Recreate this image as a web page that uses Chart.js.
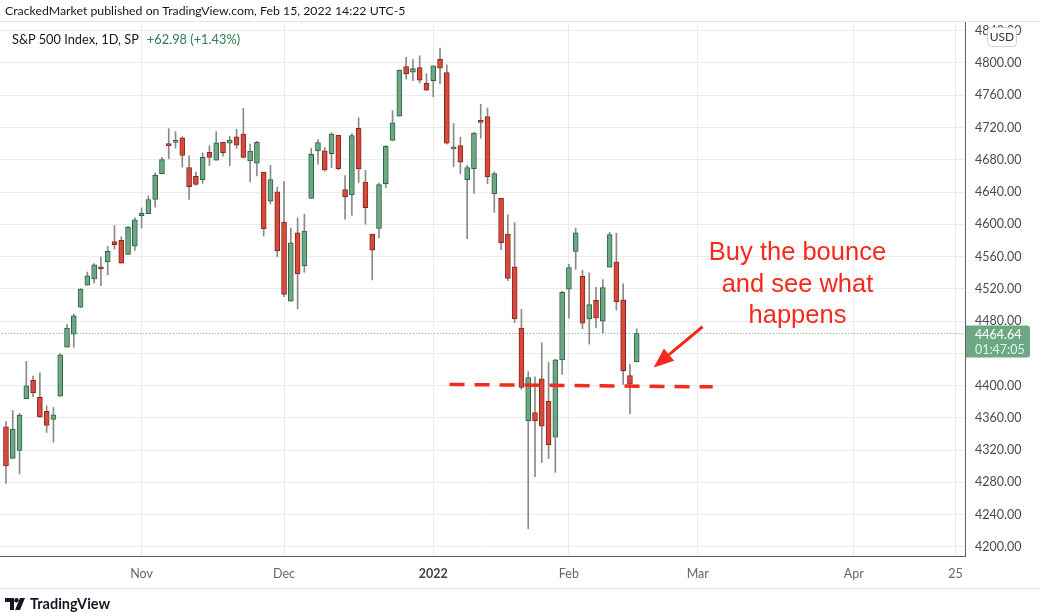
<!DOCTYPE html>
<html>
<head>
<meta charset="utf-8">
<script src="https://cdn.jsdelivr.net/npm/chart.js@4.4.1/dist/chart.umd.min.js"></script>
<style>
    body { margin: 0; background: #fff; }
    #wrap { position: relative; width: 1040px; height: 613px; overflow: hidden; }
    #grafico { position: absolute; left: 0; top: 0; }
    .txt { position: absolute; white-space: nowrap; font-family: Lato, "Open Sans", sans-serif; }
    #cabecera { left: 5px; top: 3px; font-size: 12.3px; color: #131722; }
    #leyenda { left: 12px; top: 31px; font-size: 12.8px; color: #131722; }
    #leyenda span { color: #2e7d4f; margin-left: 8px; }
    #logo { left: 5px; top: 595px; font-size: 14.5px; font-weight: bold; color: #131722; display: flex; align-items: center; }
    #logo svg { margin-right: 5px; }
</style>
</head>
<body>
<div id="wrap">
    <canvas id="grafico" width="1040" height="613"></canvas>
    <div class="txt" id="cabecera">CrackedMarket published on TradingView.com, Feb 15, 2022 14:22 UTC-5</div>
    <div class="txt" id="leyenda">S&amp;P 500 Index, 1D, SP<span>+62.98 (+1.43%)</span></div>
    <div class="txt" id="logo"><svg width="20" height="12" viewBox="0 0 20 12"><path d="M0 0h9v12H5V4H0z" fill="#131722"/><circle cx="11.5" cy="2.2" r="2.2" fill="#131722"/><path d="M15 0h5l-5 12h-5z" fill="#131722"/></svg>TradingView</div>
</div>
<script>
// S&P 500 diario, 4 oct 2021 - 15 feb 2022
const fechas = ['Oct 4','Oct 5','Oct 6','Oct 7','Oct 8','Oct 11','Oct 12','Oct 13','Oct 14','Oct 15',
    'Oct 18','Oct 19','Oct 20','Oct 21','Oct 22','Oct 25','Oct 26','Oct 27','Oct 28','Oct 29',
    'Nov 1','Nov 2','Nov 3','Nov 4','Nov 5','Nov 8','Nov 9','Nov 10','Nov 11','Nov 12',
    'Nov 15','Nov 16','Nov 17','Nov 18','Nov 19','Nov 22','Nov 23','Nov 24','Nov 26','Nov 29','Nov 30',
    'Dec 1','Dec 2','Dec 3','Dec 6','Dec 7','Dec 8','Dec 9','Dec 10','Dec 13','Dec 14',
    'Dec 15','Dec 16','Dec 17','Dec 20','Dec 21','Dec 22','Dec 23','Dec 27','Dec 28','Dec 29','Dec 30','Dec 31',
    'Jan 3','Jan 4','Jan 5','Jan 6','Jan 7','Jan 10','Jan 11','Jan 12','Jan 13','Jan 14',
    'Jan 18','Jan 19','Jan 20','Jan 21','Jan 24','Jan 25','Jan 26','Jan 27','Jan 28','Jan 31',
    'Feb 1','Feb 2','Feb 3','Feb 4','Feb 7','Feb 8','Feb 9','Feb 10','Feb 11','Feb 14','Feb 15'];

const apertura = [4348.8,4309.9,4319.6,4383.7,4406.5,4385.4,4368.3,4358.0,4386.8,4447.7,
    4463.7,4497.3,4524.4,4532.2,4546.1,4553.7,4578.7,4580.2,4562.8,4572.9,
    4610.6,4613.3,4630.7,4662.9,4699.3,4701.5,4707.3,4670.3,4659.4,4655.2,
    4689.3,4679.4,4701.5,4700.7,4708.4,4712.0,4678.5,4675.8,4664.6,4628.8,4640.3,
    4602.8,4504.7,4589.5,4548.4,4632.0,4690.9,4691.0,4687.6,4710.3,4643.0,
    4636.5,4719.1,4652.5,4587.9,4595.0,4650.4,4704.0,4734.0,4795.5,4788.6,4794.2,4775.2,
    4778.1,4804.5,4788.0,4693.4,4697.7,4655.3,4669.1,4728.6,4733.6,4638.0,
    4632.2,4588.0,4547.4,4471.4,4356.3,4366.6,4408.4,4380.6,4336.2,4431.8,
    4519.6,4566.4,4535.4,4482.8,4505.8,4480.0,4547.0,4553.2,4506.3,4412.6,4429.3];

const maximo = [4355.5,4369.2,4365.6,4430.0,4412.0,4415.9,4374.9,4372.9,4439.7,4475.8,
    4488.8,4520.4,4540.9,4551.4,4559.7,4572.6,4598.5,4584.6,4597.6,4608.1,
    4620.3,4635.2,4663.5,4683.0,4718.5,4714.9,4708.5,4684.9,4664.6,4688.5,
    4697.4,4715.0,4701.5,4708.8,4717.8,4743.8,4699.4,4702.9,4664.6,4673.0,4646.0,
    4652.9,4595.5,4608.0,4612.6,4694.0,4705.1,4695.3,4713.6,4710.3,4660.5,
    4712.6,4732.0,4666.7,4587.9,4651.1,4697.7,4740.7,4791.5,4807.0,4804.1,4808.9,4786.8,
    4796.6,4818.6,4797.7,4725.0,4708.0,4673.0,4714.1,4748.8,4744.1,4665.1,
    4632.2,4611.6,4602.1,4494.5,4417.4,4411.0,4453.2,4428.7,4432.7,4516.9,
    4550.5,4595.3,4542.9,4539.7,4521.9,4531.3,4590.0,4588.9,4526.3,4426.2,4470.5];

const minimo = [4278.9,4309.9,4290.5,4383.7,4386.2,4360.6,4342.1,4329.9,4386.8,4447.7,
    4447.5,4496.4,4524.4,4526.9,4524.0,4537.4,4569.2,4551.7,4562.8,4567.6,
    4595.1,4613.3,4621.2,4662.6,4681.3,4694.4,4670.9,4630.9,4648.3,4650.8,
    4672.9,4679.4,4684.4,4672.8,4694.2,4682.2,4652.7,4659.9,4585.4,4625.3,4560.0,
    4510.3,4504.7,4495.1,4540.5,4632.0,4674.5,4666.0,4670.2,4667.6,4606.5,
    4611.2,4651.9,4600.2,4531.1,4583.2,4645.5,4704.0,4734.0,4780.0,4778.1,4775.3,4765.8,
    4758.2,4774.3,4699.4,4671.3,4662.7,4582.2,4638.3,4706.7,4650.3,4614.8,
    4568.7,4530.2,4478.0,4395.3,4222.6,4287.1,4304.8,4309.5,4292.5,4414.0,
    4483.5,4544.3,4470.4,4451.5,4471.5,4465.4,4547.0,4493.6,4401.4,4364.8,4429.3];

const cierre = [4300.5,4345.7,4363.6,4399.8,4391.3,4361.2,4350.7,4363.8,4438.3,4471.4,
    4486.5,4519.6,4536.2,4549.8,4544.9,4566.5,4574.8,4551.7,4596.4,4605.4,
    4613.7,4630.7,4660.6,4680.1,4697.5,4701.7,4685.3,4646.7,4649.3,4682.9,
    4682.8,4700.9,4688.7,4704.5,4698.0,4682.9,4690.7,4701.5,4594.6,4655.3,4567.0,
    4513.0,4577.1,4538.4,4591.7,4686.8,4701.2,4667.5,4712.0,4669.0,4634.1,
    4709.9,4668.7,4620.6,4568.0,4649.2,4696.6,4725.8,4791.2,4786.4,4793.1,4778.7,4766.2,
    4796.6,4793.5,4700.6,4696.1,4677.0,4670.3,4713.1,4726.4,4659.0,4662.9,
    4577.1,4532.8,4482.7,4397.9,4410.1,4356.5,4349.9,4326.5,4431.9,4515.6,
    4546.5,4589.4,4477.4,4500.5,4483.9,4521.5,4587.2,4504.1,4418.6,4401.7,4464.64];

// etiquetas del eje x (posicion = numero de barra de negociacion)
const posMeses = [20, 41, 63, 83, 102, 125, 140];
const nombresMeses = ['Nov', 'Dec', '2022', 'Feb', 'Mar', 'Apr', '25'];
const ticksPrecio = [4200, 4240, 4280, 4320, 4360, 4400, 4440, 4480, 4520, 4560, 4600, 4640, 4680, 4720, 4760, 4800, 4840];

// linea de soporte dibujada a mano y flecha
const soporteX = [65.4, 104.2];
const soporteY = [4401.5, 4398.5];
const flecha = { desde: [102.7, 4473], hasta: [95.5, 4422.5] };
const nota = ['Buy the bounce', 'and see what', 'happens'];
const notaPos = [116.7, 4564];

const verde = '#6ba883', verdeBorde = '#2f6445';
const rojo = '#d8493b', rojoBorde = '#83291f';
const anotacion = '#f5291c';
const ultimo = cierre[cierre.length - 1];

function esAlcista(i) {
    return cierre[i] >= apertura[i];
}

const extras = {
    id: 'extras',
    beforeDraw(chart) {
        const ctx = chart.ctx;
        ctx.save();
        ctx.fillStyle = '#fff';
        ctx.fillRect(0, 0, chart.width, chart.height);
        ctx.restore();
    },
    afterDraw(chart) {
        const ctx = chart.ctx;
        const x = chart.scales.x, y = chart.scales.y;
        const area = chart.chartArea;
        ctx.save();

        // bordes claros arriba y abajo
        ctx.strokeStyle = '#e0e3eb';
        ctx.lineWidth = 1;
        ctx.beginPath();
        ctx.moveTo(0, area.top - 0.5); ctx.lineTo(chart.width, area.top - 0.5);
        ctx.moveTo(0, 588.5); ctx.lineTo(chart.width, 588.5);
        ctx.stroke();

        // flecha
        const x1 = x.getPixelForValue(flecha.desde[0]), y1 = y.getPixelForValue(flecha.desde[1]);
        const x2 = x.getPixelForValue(flecha.hasta[0]), y2 = y.getPixelForValue(flecha.hasta[1]);
        const ang = Math.atan2(y2 - y1, x2 - x1);
        const largo = 20, ancho = 8;
        const bx = x2 - largo * Math.cos(ang), by = y2 - largo * Math.sin(ang);
        ctx.strokeStyle = anotacion;
        ctx.fillStyle = anotacion;
        ctx.lineWidth = 3;
        ctx.beginPath();
        ctx.moveTo(x1, y1); ctx.lineTo(bx, by);
        ctx.stroke();
        ctx.beginPath();
        ctx.moveTo(x2, y2);
        ctx.lineTo(bx + ancho * Math.sin(ang), by - ancho * Math.cos(ang));
        ctx.lineTo(bx - ancho * Math.sin(ang), by + ancho * Math.cos(ang));
        ctx.closePath();
        ctx.fill();

        // texto de la nota
        ctx.font = '25.5px "Liberation Sans", Arial, sans-serif';
        ctx.textAlign = 'center';
        ctx.textBaseline = 'middle';
        const nx = x.getPixelForValue(notaPos[0]), ny = y.getPixelForValue(notaPos[1]);
        nota.forEach((linea, i) => ctx.fillText(linea, nx, ny + i * 31.5));

        // etiqueta del precio actual
        const py = y.getPixelForValue(ultimo);
        ctx.fillStyle = verde;
        ctx.beginPath();
        ctx.roundRect(area.right + 1, py - 8, 64, 32, [0, 3, 3, 0]);
        ctx.fill();
        ctx.textAlign = 'left';
        ctx.font = '12.5px Lato, "Open Sans", sans-serif';
        ctx.fillStyle = '#fff';
        ctx.fillText(ultimo.toFixed(2), area.right + 10, py + 1);
        ctx.fillStyle = 'rgba(255,255,255,0.85)';
        ctx.fillText('01:47:05', area.right + 10, py + 16);

        // USD
        ctx.fillStyle = '#fff';
        ctx.strokeStyle = '#d1d4dc';
        ctx.lineWidth = 1;
        ctx.beginPath();
        ctx.roundRect(987.5, 27.5, 29, 19, 4);
        ctx.fill();
        ctx.stroke();
        ctx.fillStyle = '#333';
        ctx.textAlign = 'center';
        ctx.font = '12px Lato, "Open Sans", sans-serif';
        ctx.fillText('USD', 1002, 37.5);

        ctx.restore();
    }
};

new Chart(document.getElementById('grafico'), {
    type: 'bar',
    data: {
        datasets: [
            {
                type: 'line',
                data: [{ x: -1, y: ultimo }, { x: 142, y: ultimo }],
                borderColor: '#5ea57b',
                borderWidth: 1,
                borderDash: [1, 2],
                pointRadius: 0,
                order: 4
            },
            {
                data: fechas.map((f, i) => ({ x: i, y: [minimo[i], maximo[i]] })),
                backgroundColor: '#8a8a8a',
                barThickness: 1,
                grouped: false,
                order: 3
            },
            {
                data: fechas.map((f, i) => ({ x: i, y: [apertura[i], cierre[i]] })),
                backgroundColor: fechas.map((f, i) => esAlcista(i) ? verde : rojo),
                borderColor: fechas.map((f, i) => esAlcista(i) ? verdeBorde : rojoBorde),
                borderWidth: 1,
                borderSkipped: false,
                barThickness: 5,
                minBarLength: 2,
                grouped: false,
                order: 2
            },
            {
                type: 'line',
                data: soporteX.map((v, i) => ({ x: v, y: soporteY[i] })),
                borderColor: anotacion,
                borderWidth: 3.5,
                borderDash: [15, 10],
                pointRadius: 0,
                order: 1
            }
        ]
    },
    options: {
        responsive: false,
        animation: false,
        devicePixelRatio: 1,
        layout: { padding: { top: 22, left: 0, right: 0, bottom: 0 } },
        plugins: { legend: { display: false }, tooltip: { enabled: false } },
        scales: {
            x: {
                type: 'linear',
                offset: false,
                min: -0.88,
                max: 141.4,
                afterBuildTicks: scale => { scale.ticks = posMeses.map(v => ({ value: v })); },
                afterFit: scale => { scale.height = 57; },
                grid: { color: '#ececec', drawTicks: false, offset: false },
                border: { display: true, color: '#5d606b' },
                ticks: {
                    padding: 10,
                    maxRotation: 0,
                    autoSkip: false,
                    color: ctx => nombresMeses[ctx.index] === '2022' ? '#444' : '#666',
                    font: ctx => ({
                        family: 'Lato, "Open Sans", sans-serif',
                        size: 12.5,
                        weight: nombresMeses[ctx.index] === '2022' ? 'bold' : 'normal'
                    }),
                    callback: (v, i) => nombresMeses[i]
                }
            },
            y: {
                position: 'right',
                min: 4188.8,
                max: 4850.8,
                afterBuildTicks: scale => { scale.ticks = ticksPrecio.map(v => ({ value: v })); },
                afterFit: scale => { scale.width = 75; },
                grid: { color: '#ececec', drawTicks: false },
                border: { display: true, color: '#5d606b' },
                ticks: {
                    padding: 10,
                    color: '#4a4a4a',
                    font: { family: 'Lato, "Open Sans", sans-serif', size: 12.5 },
                    callback: v => v.toFixed(2)
                }
            }
        }
    },
    plugins: [extras]
});
</script>
</body>
</html>
